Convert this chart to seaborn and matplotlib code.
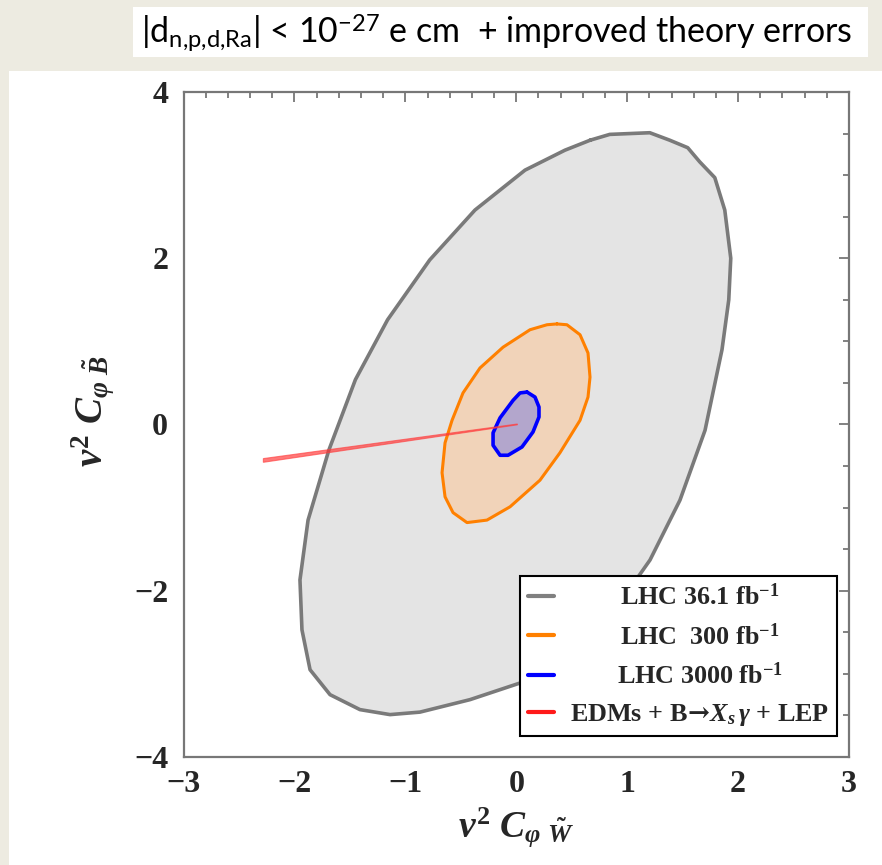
import numpy as np
import pandas as pd
import matplotlib
matplotlib.use("Agg")
import matplotlib.pyplot as plt
import seaborn as sns
from matplotlib.patches import Rectangle
from matplotlib.lines import Line2D
from matplotlib.ticker import MultipleLocator

# ---- data: contour vertices ----
gray_x = [0.666, 0.843, 1.204, 1.384, 1.546, 1.654, 1.790, 1.880, 1.934, 1.916, 1.855, 1.702,
          1.476, 1.206, 0.890, 0.529, 0.124, -0.417, -0.868, -1.138, -1.409, -1.679, -1.859,
          -1.932, -1.950, -1.877, -1.690, -1.450, -1.160, -0.780, -0.372, 0.079, 0.439]
gray_y = [3.42, 3.49, 3.51, 3.42, 3.33, 3.16, 2.97, 2.58, 2.00, 1.50, 0.90, -0.07,
          -0.91, -1.63, -2.23, -2.71, -3.07, -3.31, -3.46, -3.49, -3.43, -3.25, -2.95,
          -2.47, -1.87, -1.15, -0.31, 0.54, 1.26, 1.98, 2.58, 3.06, 3.30]

orange_x = [0.367, 0.457, 0.575, 0.647, 0.665, 0.647, 0.575, 0.394, 0.214, -0.056, -0.264,
            -0.444, -0.570, -0.642, -0.669, -0.642, -0.579, -0.480, -0.327, -0.119, 0.124, 0.277]
orange_y = [1.21, 1.20, 1.08, 0.86, 0.57, 0.33, 0.05, -0.34, -0.67, -0.99, -1.15,
            -1.18, -1.06, -0.87, -0.58, -0.22, 0.05, 0.38, 0.68, 0.93, 1.14, 1.20]

blue_x = [0.097, 0.169, 0.205, 0.205, 0.151, 0.052, -0.074, -0.146, -0.209, -0.209, -0.146, -0.029, 0.034]
blue_y = [0.39, 0.33, 0.21, 0.09, -0.09, -0.27, -0.37, -0.37, -0.25, -0.10, 0.08, 0.29, 0.38]

red_x = [-2.28, 0.01, 0.01, -2.28]
red_y = [-0.41, 0.006, -0.004, -0.455]

labels = ["LHC 36.1 fb$^{-1}$", "LHC  300 fb$^{-1}$", "LHC 3000 fb$^{-1}$",
          r"EDMs + B$\!\mathtt{\rightarrow}\!X_s\,\gamma$ + LEP"]
x_ticks = [-3, -2, -1, 0, 1, 2, 3]
y_ticks = [-4, -2, 0, 2, 4]

# ---- styles ----
edge_cols = {"g": "#7a7a7a", "o": "#ff8000", "b": "#0000ff"}
fill_cols = {"g": "#e4e4e4", "o": "#f1d3b9", "b": "#b3a6cc"}

sns.set_theme(style="white")
plt.rcParams.update({
    "font.family": ["Liberation Serif", "DejaVu Serif"],
    "font.weight": "bold",
    "mathtext.fontset": "custom",
    "mathtext.rm": "Liberation Serif:bold",
    "mathtext.bf": "Liberation Serif:bold",
    "mathtext.it": "Liberation Serif:italic:bold",
    "mathtext.sf": "Lato:normal",
    "mathtext.tt": "DejaVu Serif",
    "axes.unicode_minus": True,
})

W, H = 882, 865
fig = plt.figure(figsize=(W / 100, H / 100), dpi=100)
fig.patch.set_facecolor("#edebe1")
fig.add_artist(Rectangle((9 / W, 0), 1 - 9 / W, 1 - 71 / H, transform=fig.transFigure,
                         facecolor="white", edgecolor="none", zorder=0))
fig.add_artist(Rectangle((133 / W, 1 - 57 / H), (868 - 133) / W, 50 / H, transform=fig.transFigure,
                         facecolor="white", edgecolor="none", zorder=0))
fig.text(497 / W, 1 - 33 / H,
         r"|d$_{\mathsf{n{,}p{,}d{,}Ra}}$| < 10$^{\mathsf{-27}}$ e cm  + improved theory errors",
         ha="center", va="center", fontsize=24.5, color="black",
         family=["Lato", "DejaVu Sans"], weight="normal")

ax = fig.add_axes([183.5 / W, 1 - 757 / H, (849 - 183.5) / W, (757 - 92) / H])
ax.set_facecolor("white")

df = pd.concat([
    pd.DataFrame({"x": gray_x + gray_x[:1], "y": gray_y + gray_y[:1], "r": "g"}),
    pd.DataFrame({"x": orange_x + orange_x[:1], "y": orange_y + orange_y[:1], "r": "o"}),
    pd.DataFrame({"x": blue_x + blue_x[:1], "y": blue_y + blue_y[:1], "r": "b"}),
], ignore_index=True)

for key, z in (("g", 1), ("o", 3), ("b", 5)):
    sub = df[df.r == key]
    ax.fill(sub.x, sub.y, color=fill_cols[key], zorder=z, lw=0)
    sns.lineplot(data=sub, x="x", y="y", sort=False, estimator=None, color=edge_cols[key],
                 lw=2.6 if key != "o" else 2.2, ax=ax, zorder=z + 0.5, legend=False)

ax.fill(red_x, red_y, color="#ff3030", alpha=0.65, lw=0.8, ec="#ff4040", zorder=7)

ax.set_xlim(-3, 3)
ax.set_ylim(-4, 4)
ax.set_xticks(x_ticks)
ax.set_yticks(y_ticks)
ax.xaxis.set_minor_locator(MultipleLocator(0.2))
ax.yaxis.set_minor_locator(MultipleLocator(0.5))
ax.tick_params(which="both", direction="in", top=True, right=True, color="#777777",
               labelsize=23, width=1.3)
ax.tick_params(which="major", length=7)
ax.tick_params(which="minor", length=4)
ax.tick_params(axis="y", pad=11)
ax.tick_params(axis="x", pad=9)
for lab in ax.get_xticklabels() + ax.get_yticklabels():
    lab.set_fontweight("bold")
for s in ax.spines.values():
    s.set_color("#777777")
    s.set_linewidth(1.6)

ax.set_xlabel(r"$v^2\ C_{\varphi\ \tilde{W}}$", fontsize=27, labelpad=5)
ax.set_ylabel(r"$v^2\ C_{\varphi\ \tilde{B}}$", fontsize=28, labelpad=13)
ax.yaxis.label.set_y(0.52)

handles = [Line2D([], [], color=c, lw=3) for c in ["#808080", "#ff8000", "#0000ff", "#ff1a1a"]]
leg = ax.legend(handles, labels, loc="lower right", bbox_to_anchor=(0.982, 0.0316),
                borderaxespad=0, frameon=True, fancybox=False, framealpha=1,
                edgecolor="black", handlelength=1.0, handletextpad=0.6, labelspacing=0.5,
                borderpad=0.3, prop={"family": "Liberation Serif", "weight": "bold", "size": 18.8})
leg.get_frame().set_linewidth(1.5)
leg.set_zorder(10)

# centre legend texts in the box
fig.canvas.draw()
r = fig.canvas.get_renderer()
widths = [t.get_window_extent(r).width for t in leg.get_texts()]
mw = max(widths)
for t, w in zip(leg.get_texts(), widths):
    t.set_x((mw - w) / 2)

fig.savefig("out.png", dpi=100, facecolor=fig.get_facecolor())
